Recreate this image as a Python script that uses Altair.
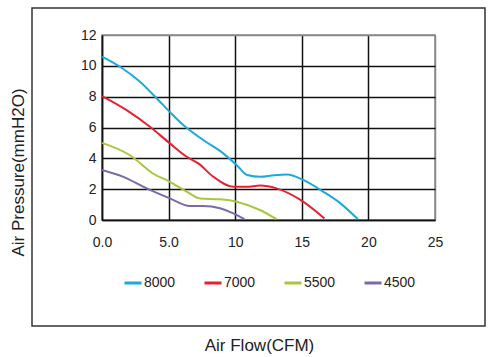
import altair as alt
import pandas as pd

speeds = ["8000", "7000", "5500", "4500"]
colors = ["#1BA9DE", "#E62131", "#A9C73A", "#7B69AA"]

x8000 = [0, 1.35, 2.85, 4.1, 5.1, 6.1, 7.6, 9.1, 10.1, 10.9, 11.9, 12.9, 13.9, 15.1, 16.6, 17.9, 19.2]
y8000 = [10.6, 9.94, 8.97, 7.9, 7.0, 6.16, 5.19, 4.32, 3.57, 2.92, 2.8, 2.9, 2.95, 2.6, 1.84, 1.08, 0.06]

x7000 = [0, 1.85, 3.6, 5.1, 6.36, 7.23, 8.35, 9.86, 10.86, 11.86, 13.1, 14.9, 16.7]
y7000 = [8.04, 7.13, 6.05, 4.97, 4.1, 3.67, 2.81, 2.16, 2.16, 2.23, 2.05, 1.3, 0.1]

x5500 = [0, 2.1, 3.85, 5.1, 6.36, 7.36, 8.86, 10.1, 11.86, 13.1]
y5500 = [5.0, 4.2, 3.0, 2.48, 1.84, 1.4, 1.34, 1.19, 0.65, 0.05]

x4500 = [0, 1.6, 3.35, 5.1, 6.6, 7.6, 8.86, 9.86, 10.7]
y4500 = [3.24, 2.8, 2.05, 1.4, 0.91, 0.91, 0.76, 0.43, 0.05]

x_ticks = [0, 5, 10, 15, 20, 25]
x_tick_labels = ["0.0", "5.0", "10", "15", "20", "25"]
y_ticks = [0, 2, 4, 6, 8, 10, 12]

rows = []
for s, xs, ys in zip(speeds, [x8000, x7000, x5500, x4500], [y8000, y7000, y5500, y4500]):
    for i, (a, b) in enumerate(zip(xs, ys)):
        rows.append({"speed": s, "flow": a, "pressure": b, "order": i})
df = pd.DataFrame(rows)

label_map = "{" + ",".join(f"'{v}':'{l}'" for v, l in zip(x_ticks, x_tick_labels)) + "}"

FONT = "Liberation Sans"

lines = alt.Chart(df).mark_line(strokeWidth=2, interpolate="monotone").encode(
    x=alt.X("flow:Q",
            scale=alt.Scale(domain=[0, 25], nice=False, zero=False),
            axis=alt.Axis(values=x_ticks, labelExpr=f"{label_map}[datum.value]",
                          title="Air Flow(CFM)", titleX=157, titleY=125,
                          titleBaseline="middle", titleFontWeight="normal",
                          titleFontSize=17, labelFontSize=14, labelPadding=15,
                          labelFlush=False,
                          ticks=False, labelColor="#222", titleColor="#222",
                          grid=True, gridColor={"condition": {"test": "datum.value == 25", "value": "#888888"}, "value": "#111111"},
                          gridWidth=1.5, domainColor="#111111", domainWidth=1.5,
                          labelFont=FONT, titleFont=FONT)),
    y=alt.Y("pressure:Q",
            scale=alt.Scale(domain=[0, 12], nice=False),
            axis=alt.Axis(values=y_ticks, title="Air Pressure(mmH2O)",
                          titleX=-84, titleY=137, titleBaseline="middle", titleAlign="center",
                          titleFontWeight="normal", titleFontSize=17, labelFontSize=14,
                          labelPadding=6, labelFlush=False, ticks=False,
                          labelColor="#222", titleColor="#222",
                          grid=True, gridColor={"condition": {"test": "datum.value == 12", "value": "#888888"}, "value": "#111111"},
                          gridWidth=1.5, domainColor="#111111", domainWidth=1.5,
                          labelFont=FONT, titleFont=FONT)),
    color=alt.Color("speed:N",
                    scale=alt.Scale(domain=speeds, range=colors),
                    legend=alt.Legend(orient="none", legendX=21, legendY=238,
                                      direction="horizontal", title=None,
                                      symbolType="stroke", symbolSize=289,
                                      symbolStrokeWidth=3, labelOffset=1,
                                      columnPadding=22, labelFontSize=14,
                                      labelFont=FONT, labelColor="#222")),
    order="order:Q",
    detail="speed:N",
)

box = alt.Chart(alt.Data(values=[{}])).mark_rect(
    filled=False, stroke="#333333", strokeWidth=1.5
).encode(
    x=alt.value(-70), x2=alt.value(383), y=alt.value(-27), y2=alt.value(291)
)

chart = alt.layer(lines, box).properties(
    width=333, height=185,
    autosize=alt.AutoSizeParams(type="none"),
    padding={"left": 102, "top": 35, "right": 60, "bottom": 137},
    background="white",
).configure_view(stroke="#888888", strokeWidth=1.5)

chart.save("out.html", embed_options={"renderer": "svg", "actions": False})
